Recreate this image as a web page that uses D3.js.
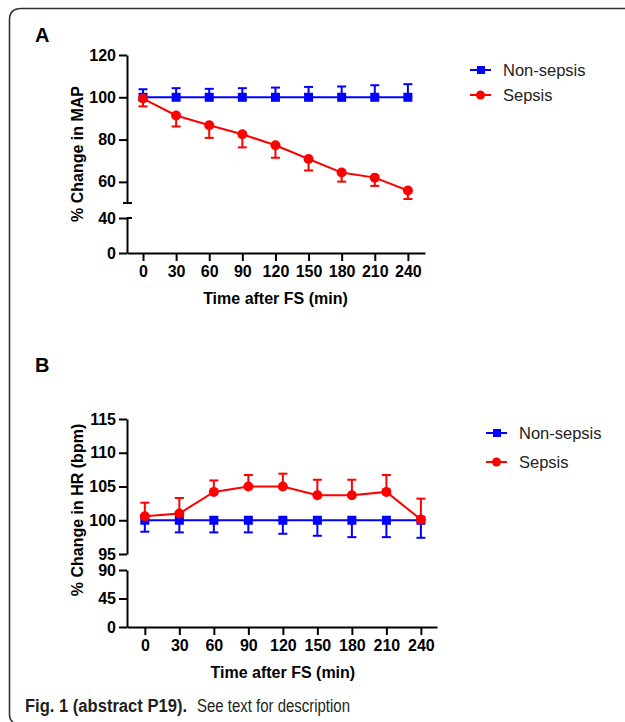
<!DOCTYPE html>
<html>
<head>
<meta charset="utf-8">
<script src="https://cdn.jsdelivr.net/npm/d3@7.9.0/dist/d3.min.js"></script>
<style>
  body { margin: 0; background: #fff; }
  svg text { font-family: "Liberation Sans", Arial, sans-serif; }
</style>
</head>
<body>
<svg id="fig" width="625" height="722"></svg>
<script>
// time points (min)
const times = [0, 30, 60, 90, 120, 150, 180, 210, 240];
const xTicks = [0, 30, 60, 90, 120, 150, 180, 210, 240];

// panel A: % change in MAP
const mapNonSepsis = [100, 100, 100, 100, 100, 100, 100, 100, 100];
const mapNonSepsisErr = [3.8, 4.3, 4.0, 4.3, 4.6, 4.9, 5.1, 5.7, 6.2];   // drawn upward
const mapSepsis = [99.4, 91.4, 86.8, 82.5, 77.3, 70.8, 64.4, 62.0, 55.9];
const mapSepsisErr = [3.7, 5.2, 6.0, 6.2, 5.9, 5.4, 4.3, 3.9, 4.0];     // drawn downward
const mapTicksUpper = [60, 80, 100, 120];
const mapTicksLower = [0, 40];

// panel B: % change in HR
const hrNonSepsis = [100, 100, 100, 100, 100, 100, 100, 100, 100];
const hrNonSepsisErr = [1.7, 1.8, 1.8, 1.8, 2.0, 2.3, 2.5, 2.5, 2.6];   // drawn downward
const hrSepsis = [100.6, 101.0, 104.2, 105.0, 105.0, 103.7, 103.7, 104.2, 100.1];
const hrSepsisErr = [2.0, 2.3, 1.7, 1.7, 1.9, 2.3, 2.3, 2.5, 3.1];      // drawn upward
const hrTicksUpper = [95, 100, 105, 110, 115];
const hrTicksLower = [0, 45, 90];

const seriesNames = ["Non-sepsis", "Sepsis"];
const blue = "#0000ff", red = "#ff0000";

const svg = d3.select("#fig");

// frame
svg.append("path")
  .attr("d", "M625,8.5 H21 Q9.5,8.5 9.5,20 V714 Q9.5,720 13,722")
  .attr("fill", "none").attr("stroke", "#333").attr("stroke-width", 1.6);

function panel(cfg) {
  const g = svg.append("g");
  const x = d3.scaleLinear().domain(cfg.xDomain).range(cfg.xRange);
  const yU = d3.scaleLinear().domain(cfg.upperDomain).range(cfg.upperRange);
  const yL = d3.scaleLinear().domain(cfg.lowerDomain).range(cfg.lowerRange);
  const yv = v => v >= cfg.upperDomain[0] ? yU(v) : yL(v);

  g.append("text").attr("x", 35).attr("y", cfg.letterY)
    .attr("font-size", 20).attr("font-weight", "bold").text(cfg.letter);

  const axStyle = sel => {
    sel.selectAll("path, line").attr("stroke", "#000").attr("stroke-width", 2);
    sel.selectAll("text").attr("font-size", 16).attr("font-weight", "bold")
      .attr("fill", "#000").attr("font-family", "Liberation Sans, Arial, sans-serif");
  };

  const axU = g.append("g").attr("transform", `translate(${cfg.xRange[0]},0)`)
    .call(d3.axisLeft(yU).tickValues(cfg.ticksUpper).tickSize(8).tickSizeOuter(0).tickPadding(3));
  axStyle(axU);
  const axL = g.append("g").attr("transform", `translate(${cfg.xRange[0]},0)`)
    .call(d3.axisLeft(yL).tickValues(cfg.ticksLower).tickSize(8).tickSizeOuter(0).tickPadding(3));
  axStyle(axL);

  if (cfg.breakMarks) {
    // short bars at the ends of the broken axis
    g.append("line").attr("x1", cfg.xRange[0] - 4).attr("x2", cfg.xRange[0] + 5)
      .attr("y1", yU(cfg.upperDomain[0])).attr("y2", yU(cfg.upperDomain[0]))
      .attr("stroke", "#000").attr("stroke-width", 2);
    g.append("line").attr("x1", cfg.xRange[0]).attr("x2", cfg.xRange[0] + 5)
      .attr("y1", yL(cfg.lowerDomain[1])).attr("y2", yL(cfg.lowerDomain[1]))
      .attr("stroke", "#000").attr("stroke-width", 2);
  }

  const axX = g.append("g").attr("transform", `translate(0,${cfg.lowerRange[0]})`)
    .call(d3.axisBottom(x).tickValues(xTicks).tickSize(8).tickSizeOuter(0).tickPadding(5));
  axStyle(axX);

  g.append("text").attr("x", (x(0) + x(240)) / 2).attr("y", cfg.lowerRange[0] + 51)
    .attr("text-anchor", "middle").attr("font-size", 16).attr("font-weight", "bold")
    .text("Time after FS (min)");

  g.append("text")
    .attr("transform", `translate(83,${cfg.yTitleY}) rotate(-90)`)
    .attr("text-anchor", "middle").attr("font-size", 16).attr("font-weight", "bold")
    .text(cfg.yTitle);

  const line = d3.line().x((d, i) => x(times[i])).y(d => yv(d));

  cfg.series.forEach(s => {
    const eg = g.append("g");
    s.values.forEach((v, i) => {
      const end = v + s.dir * s.err[i];
      eg.append("line").attr("x1", x(times[i])).attr("x2", x(times[i]))
        .attr("y1", yv(v)).attr("y2", yv(end))
        .attr("stroke", s.color).attr("stroke-width", 2);
      eg.append("line").attr("x1", x(times[i]) - 4.5).attr("x2", x(times[i]) + 4.5)
        .attr("y1", yv(end)).attr("y2", yv(end))
        .attr("stroke", s.color).attr("stroke-width", 2);
    });
  });

  cfg.series.forEach(s => {
    g.append("path").datum(s.values).attr("d", line)
      .attr("fill", "none").attr("stroke", s.color).attr("stroke-width", 2);
    s.values.forEach((v, i) => {
      if (s.shape === "square") {
        g.append("rect").attr("x", x(times[i]) - 4.5).attr("y", yv(v) - 4.5)
          .attr("width", 9).attr("height", 9).attr("fill", s.color);
      } else {
        g.append("circle").attr("cx", x(times[i])).attr("cy", yv(v)).attr("r", 5)
          .attr("fill", s.color);
      }
    });
  });

  // legend
  cfg.series.forEach((s, i) => {
    const ly = cfg.legendY[i];
    const lx = cfg.legendX;
    g.append("line").attr("x1", lx).attr("x2", lx + 21).attr("y1", ly).attr("y2", ly)
      .attr("stroke", s.color).attr("stroke-width", 2);
    if (s.shape === "square") {
      g.append("rect").attr("x", lx + 7).attr("y", ly - 4).attr("width", 8).attr("height", 8)
        .attr("fill", s.color);
    } else {
      g.append("circle").attr("cx", lx + 10.5).attr("cy", ly).attr("r", 4.5).attr("fill", s.color);
    }
    g.append("text").attr("x", lx + 33).attr("y", ly).attr("dy", "0.35em")
      .attr("font-size", 16.5).attr("fill", "#222").text(seriesNames[i]);
  });
}

panel({
  letter: "A", letterY: 42,
  xDomain: [-14.5, 255.5], xRange: [127, 425],
  upperDomain: [50, 120], upperRange: [203, 55],
  lowerDomain: [0, 40], lowerRange: [253, 218],
  ticksUpper: mapTicksUpper, ticksLower: mapTicksLower,
  breakMarks: true,
  yTitle: "% Change in MAP", yTitleY: 154,
  legendX: 470, legendY: [70, 95],
  series: [
    { values: mapNonSepsis, err: mapNonSepsisErr, dir: 1, color: blue, shape: "square" },
    { values: mapSepsis, err: mapSepsisErr, dir: -1, color: red, shape: "circle" }
  ]
});

panel({
  letter: "B", letterY: 372,
  xDomain: [-15.5, 254], xRange: [127, 437],
  upperDomain: [95, 115], upperRange: [554, 419],
  lowerDomain: [0, 90], lowerRange: [627, 570],
  ticksUpper: hrTicksUpper, ticksLower: hrTicksLower,
  breakMarks: false,
  yTitle: "% Change in HR (bpm)", yTitleY: 510,
  legendX: 486, legendY: [433, 462],
  series: [
    { values: hrNonSepsis, err: hrNonSepsisErr, dir: -1, color: blue, shape: "square" },
    { values: hrSepsis, err: hrSepsisErr, dir: 1, color: red, shape: "circle" }
  ]
});

// caption (two pieces, each squeezed to the narrow typeface width of the original)
svg.append("text").attr("x", 25).attr("y", 712)
  .attr("font-family", "Open Sans, Noto Sans, sans-serif").attr("font-size", 18)
  .attr("font-weight", "bold").attr("fill", "#231f20")
  .attr("textLength", 162).attr("lengthAdjust", "spacingAndGlyphs")
  .text("Fig. 1 (abstract P19).");
svg.append("text").attr("x", 197).attr("y", 712)
  .attr("font-family", "Open Sans, Noto Sans, sans-serif").attr("font-size", 18)
  .attr("fill", "#231f20")
  .attr("textLength", 153).attr("lengthAdjust", "spacingAndGlyphs")
  .text("See text for description");
</script>
</body>
</html>
